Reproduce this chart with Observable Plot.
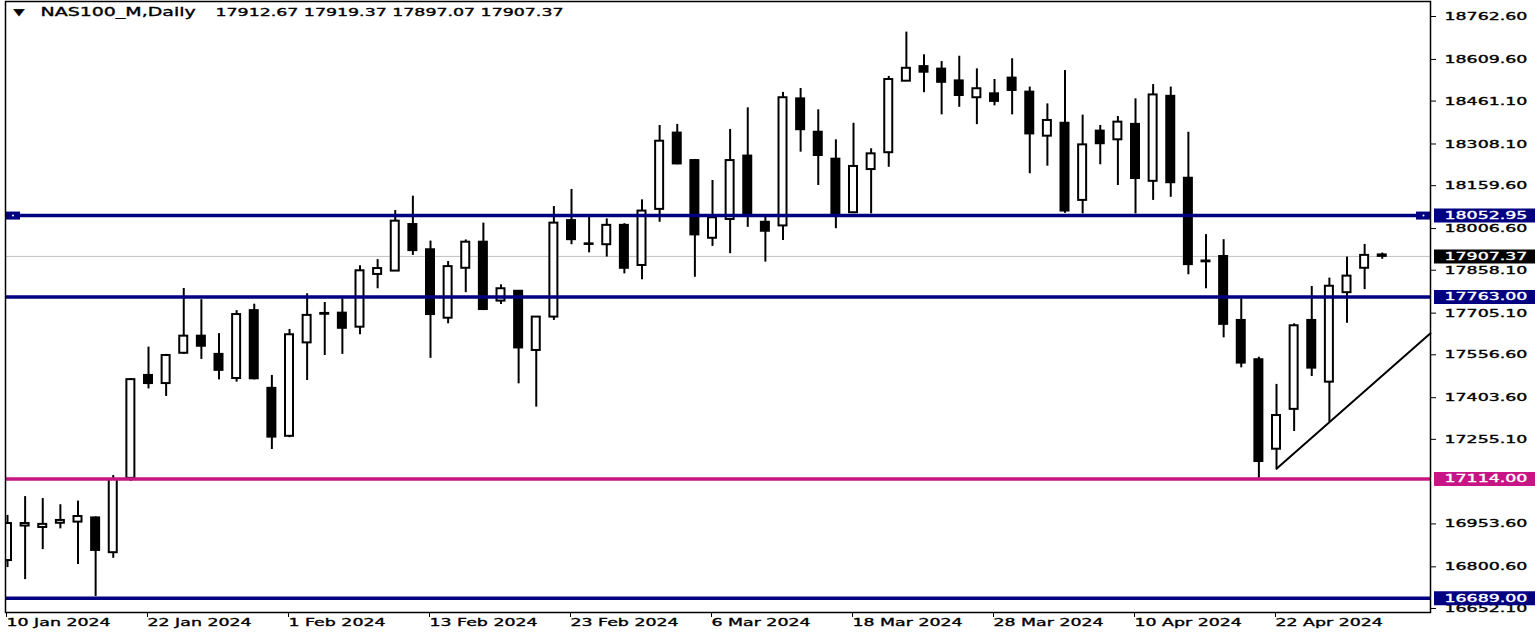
<!DOCTYPE html>
<html><head><meta charset="utf-8">
<script src="https://cdn.jsdelivr.net/npm/d3@7"></script>
<script src="https://cdn.jsdelivr.net/npm/@observablehq/plot@0.6"></script>
<style>html,body{margin:0;padding:0;background:#fff;} #chart{width:1538px;height:639px;overflow:hidden}</style>
</head><body><div id="chart"></div>
<script>
const dates = ["2024-01-10","2024-01-11","2024-01-12","2024-01-15","2024-01-16","2024-01-17","2024-01-18","2024-01-19","2024-01-22","2024-01-23","2024-01-24","2024-01-25","2024-01-26","2024-01-29","2024-01-30","2024-01-31","2024-02-01","2024-02-02","2024-02-05","2024-02-06","2024-02-07","2024-02-08","2024-02-09","2024-02-12","2024-02-13","2024-02-14","2024-02-15","2024-02-16","2024-02-19","2024-02-20","2024-02-21","2024-02-22","2024-02-23","2024-02-26","2024-02-27","2024-02-28","2024-02-29","2024-03-01","2024-03-04","2024-03-05","2024-03-06","2024-03-07","2024-03-08","2024-03-11","2024-03-12","2024-03-13","2024-03-14","2024-03-15","2024-03-18","2024-03-19","2024-03-20","2024-03-21","2024-03-22","2024-03-25","2024-03-26","2024-03-27","2024-03-28","2024-04-01","2024-04-02","2024-04-03","2024-04-04","2024-04-05","2024-04-08","2024-04-09","2024-04-10","2024-04-11","2024-04-12","2024-04-15","2024-04-16","2024-04-17","2024-04-18","2024-04-19","2024-04-22","2024-04-23","2024-04-24","2024-04-25","2024-04-26","2024-04-29","2024-04-30"];
const open = [16823,16946,16941,16956,16960,16975,16851,17116,17483,17454,
 17562,17623,17558,17472,17714,17437,17266,17599,17701,17705,
 17655,17843,17855,18021,17931,17687,17865,17958,17748,17783,
 17572,17691,18035,17952,17949,18018,17875,18075,18347,18249,
 17972,18039,18265,18029,18016,18469,18350,18254,18063,18217,
 18277,18532,18584,18575,18533,18473,18487,18543,18493,18336,
 18382,18107,18354,18323,18378,18175,18478,18186,17888,17907,
 17679,17539,17220,17362,17679,17459,17778,17865,17912.67];
const high = [16984,17051,17044,17022,17035,16979,17126,17472,17584,17558,
 17793,17753,17632,17714,17737,17483,17647,17774,17743,17756,
 17874,17896,18071,18122,17962,17889,17966,18026,17806,17786,
 17693,18085,18146,18047,18041,18024,18109,18374,18378,18253,
 18178,18360,18437,18047,18492,18506,18430,18323,18382,18291,
 18549,18707,18626,18602,18621,18576,18538,18612,18511,18451,
 18570,18411,18374,18406,18469,18520,18511,18350,17985,17967,
 17756,17548,17451,17667,17800,17830,17905,17950,17919.37];
const low = [16798,16755,16862,16936,16809,16695,16831,17105,17435,17408,
 17558,17540,17467,17459,17467,17219,17261,17465,17554,17558,
 17628,17792,17854,17911,17544,17667,17778,17714,17736,17453,
 17370,17679,17949,17920,17905,17845,17824,18029,18234,17833,
 17943,17917,18011,17887,17964,18279,18160,18006,18060,18059,
 18225,18531,18491,18412,18439,18377,18444,18412,18202,18229,
 18061,18059,18234,18160,18059,18107,18118,17842,17792,17617,
 17510,17116,17150,17283,17479,17316,17669,17789,17897.07];
const close = [16955,16955,16952,16966,16980,16859,17112,17468,17454,17554,
 17623,17587,17501,17700,17471,17263,17628,17697,17704,17651,
 17856,17864,18033,17928,17700,17871,17958,17718,17792,17581,
 17691,18026,17967,17950,18018,17865,18069,18318,18237,17984,
 18045,18249,18059,17997,18473,18359,18267,18056,18228,18273,
 18538,18578,18564,18528,18481,18505,18460,18499,18344,18392,
 18069,18305,18309,18386,18185,18483,18170,17878,17891,17665,
 17527,17176,17340,17660,17509,17801,17837,17911,17907.37];

const xTickIndex = [0, 8, 16, 24, 32, 40, 48, 56, 64, 72];
const xTickLabels = ["10 Jan 2024","22 Jan 2024","1 Feb 2024","13 Feb 2024","23 Feb 2024","6 Mar 2024","18 Mar 2024","28 Mar 2024","10 Apr 2024","22 Apr 2024"];
const yTicks = [18762.60,18609.60,18461.10,18308.10,18159.60,18006.60,17858.10,17705.10,17556.60,17403.60,17255.10,16953.60,16800.60,16652.10];

const levels = [18052.95, 17763.00, 17114.00, 16689.00];
const levelColors = ["#000080", "#000080", "#C71585", "#000080"];
const selectedLevel = 18052.95;
const lastPrice = 17907.37;
const headerName = "NAS100_M,Daily";
const headerOHLC = [17912.67, 17919.37, 17897.07, 17907.37];
const trendAnchors = [{i: 72, p: 17150}, {i: 75, p: 17316}];

// layout
const W = 1538, H = 639;
const mL = 5, mR = 108, mT = 1, mB = 27;
const xLo = -0.1135, xHi = 80.737;
const yLo = 16637.8, yHi = 18816.1;
const PX = (W - mL - mR) / (xHi - xLo); // pixels per bar
const BODY = 4 / PX;
const TEXT_STRETCH = 1.58;

const candles = dates.map((d, i) => ({i, date: d, o: open[i], h: high[i], l: low[i], c: close[i]}));
const bulls = candles.filter(d => d.c >= d.o);
const bears = candles.filter(d => d.c < d.o);

const slope = (trendAnchors[1].p - trendAnchors[0].p) / (trendAnchors[1].i - trendAnchors[0].i);
const trendPts = [trendAnchors[0], {i: xHi, p: trendAnchors[0].p + slope * (xHi - trendAnchors[0].i)}];

const boxes = [...levels.map((v, k) => ({v, color: levelColors[k]})), {v: lastPrice, color: "#000"}];

const svg = Plot.plot({
  width: W, height: H,
  marginLeft: mL, marginRight: mR, marginTop: mT, marginBottom: mB,
  style: {fontFamily: "DejaVu Sans", fontSize: "11px", background: "#fff", color: "#000", overflow: "visible"},
  x: {type: "linear", domain: [xLo, xHi]},
  y: {type: "linear", domain: [yLo, yHi]},
  marks: [
    Plot.ruleY([lastPrice], {stroke: "#c0c0c0", strokeWidth: 1}),
    Plot.ruleX(candles, {x: "i", y1: "l", y2: "h", stroke: "#000", strokeWidth: 2, clip: true}),
    Plot.rect(bulls, {x1: d => d.i - BODY, x2: d => d.i + BODY, y1: "o", y2: "c", fill: "#fff", stroke: "#000", strokeWidth: 2, clip: true}),
    Plot.rect(bears, {x1: d => d.i - BODY, x2: d => d.i + BODY, y1: "o", y2: "c", fill: "#000", stroke: "#000", strokeWidth: 2, clip: true}),
    ...levels.map((v, k) => Plot.ruleY([v], {stroke: levelColors[k], strokeWidth: 3.5})),
    Plot.line(trendPts, {x: "i", y: "p", stroke: "#000", strokeWidth: 2}),
    // selection handles on the selected level
    Plot.ruleY([selectedLevel], {x1: xLo, x2: xLo + 15 / PX, stroke: "#000080", strokeWidth: 8}),
    Plot.ruleY([selectedLevel], {x1: xHi - 14 / PX, x2: xHi, stroke: "#000080", strokeWidth: 8}),
    Plot.dot([selectedLevel, selectedLevel], {x: (d, k) => k === 0 ? xLo + 7.5 / PX : xHi - 7 / PX, y: d => d, r: 1, fill: "#fff"}),
    Plot.frame({stroke: "#000", strokeWidth: 1.5}),
    Plot.axisY({anchor: "right", ticks: yTicks, tickFormat: d => d.toFixed(2), tickSize: 5, tickPadding: 9, label: null}),
    Plot.axisX({anchor: "bottom", ticks: xTickIndex, tickFormat: d => xTickLabels[xTickIndex.indexOf(d)], tickSize: 5, tickPadding: 1, textAnchor: "start", dx: -1, label: null}),
    // price label boxes on the axis
    ...boxes.map(b => Plot.ruleY([b.v], {x1: xHi + 4 / PX, x2: xHi + 105 / PX, stroke: b.color, strokeWidth: 14})),
    Plot.text(boxes, {y: "v", frameAnchor: "right", dx: 14, textAnchor: "start", text: d => d.v.toFixed(2), fill: "#fff"}),
    // header
    Plot.text(["\u25BC"], {frameAnchor: "top-left", dx: 8, dy: 11, lineAnchor: "middle", textAnchor: "start", fontSize: 9}),
    Plot.text([headerName], {frameAnchor: "top-left", dx: 35, dy: 11, lineAnchor: "middle", textAnchor: "start", fontSize: 12}),
    Plot.text([headerOHLC.map(v => v.toFixed(2)).join(" ")], {frameAnchor: "top-left", dx: 210, dy: 11, lineAnchor: "middle", textAnchor: "start", fontSize: 11})
  ]
});

document.getElementById("chart").appendChild(svg);

// horizontally stretched, slightly heavier text like the source screenshot
svg.querySelectorAll("text").forEach(t => {
  let tr = t.getAttribute("transform") || "";
  const x = t.getAttribute("x");
  if (x && !/em$/.test(x)) { tr += ` translate(${x},0)`; t.removeAttribute("x"); }
  t.setAttribute("transform", (tr + ` scale(${TEXT_STRETCH},1)`).trim());
  const f = getComputedStyle(t).fill;
  t.setAttribute("stroke", f);
  t.setAttribute("stroke-width", "0.35");
});
</script>
</body></html>
